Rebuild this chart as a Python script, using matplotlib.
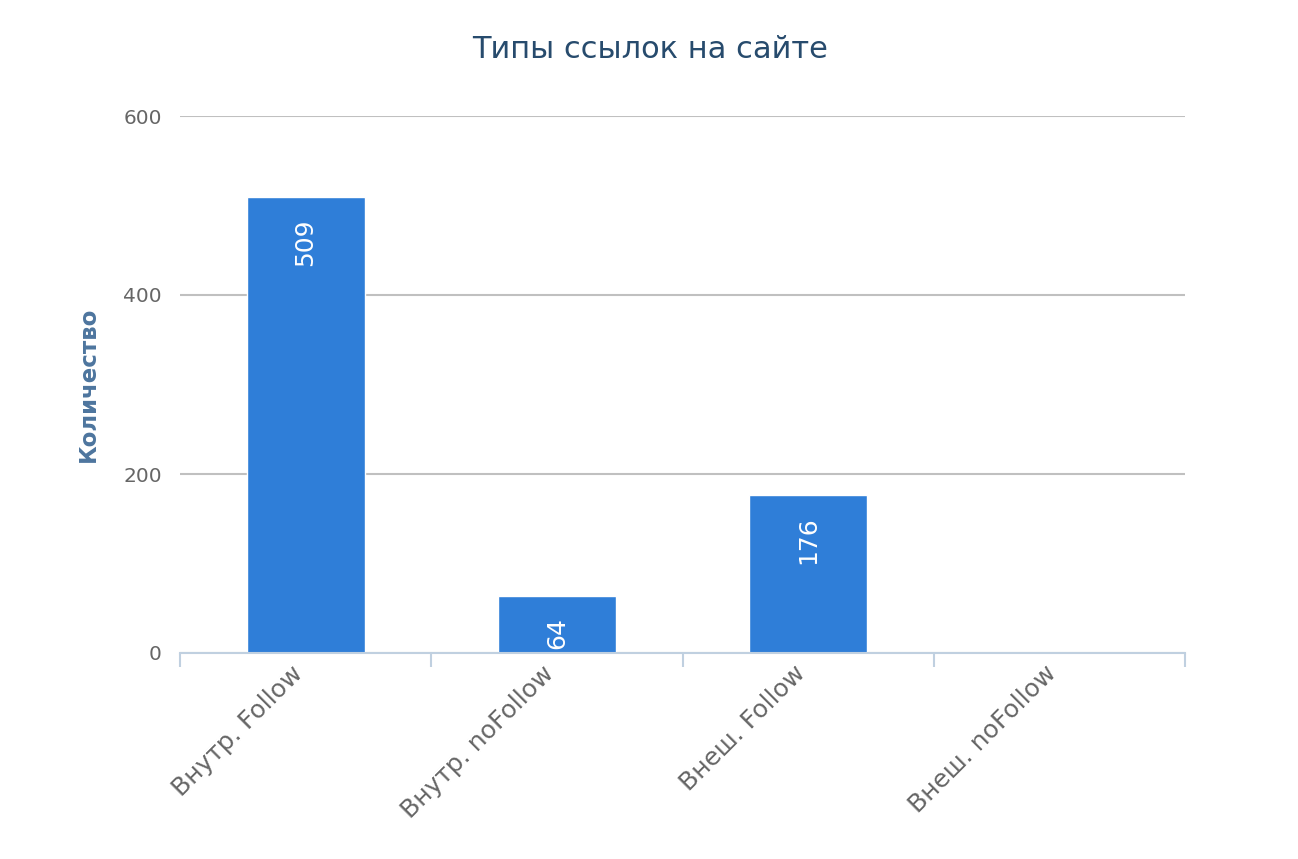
import matplotlib
matplotlib.use("Agg")
import matplotlib.pyplot as plt

categories = ["Внутр. Follow", "Внутр. noFollow", "Внеш. Follow", "Внеш. noFollow"]
values = [509, 64, 176, 0]
yticks = [0, 200, 400, 600]

plt.rcParams['font.family'] = ['DejaVu Sans']

fig = plt.figure(figsize=(12.98, 8.59), dpi=100)
ax = fig.add_axes([180/1298, 206/859, (1185-180)/1298, (653-116)/859])

x = list(range(len(categories)))
ax.bar(x, values, width=0.47, color="#2f7ed8", edgecolor="#ffffff", linewidth=1.0, zorder=3)

ax.set_xlim(-0.5, len(categories) - 0.5)
ax.set_ylim(0, 600)
ax.set_yticks(yticks)
ax.set_yticklabels([str(t) for t in yticks], fontsize=14.5, color="#666666")
ax.tick_params(axis='y', length=0, pad=13)

ax.set_xticks([i - 0.5 for i in range(len(categories) + 1)])
ax.set_xticklabels([])
ax.tick_params(axis='x', which='major', length=10, width=1.5, color="#c0d0e0", direction='out')

for i, c in enumerate(categories):
    ax.annotate(c, (i, 0), xytext=(-15, -8), textcoords='offset pixels',
                rotation=45, rotation_mode='anchor', ha='right', va='top',
                fontsize=18, color="#666666", annotation_clip=False)

for s in ['left', 'right', 'top']:
    ax.spines[s].set_visible(False)
ax.spines['bottom'].set_color("#c0d0e0")
ax.spines['bottom'].set_linewidth(1.5)
ax.spines['bottom'].set_zorder(4)

ax.yaxis.grid(True, color="#c0c0c0", linewidth=1.5, zorder=0)
ax.set_axisbelow(True)

for i, v in enumerate(values):
    if v > 0:
        ax.annotate(str(v), (i, v), xytext=(0, -21), textcoords='offset pixels',
                    rotation=90, rotation_mode='anchor', ha='right', va='center',
                    color='white', fontsize=18, zorder=5, annotation_clip=False)

fig.text(88/1298, 1 - 384/859, "Количество", rotation=90, ha='center', va='center',
         fontsize=16.5, fontweight='bold', color="#4d759e")
fig.text(650/1298, 1 - 50/859, "Типы ссылок на сайте", ha='center', va='center',
         fontsize=22, color="#274b6d")

fig.savefig("out.png", dpi=100, facecolor="white")
